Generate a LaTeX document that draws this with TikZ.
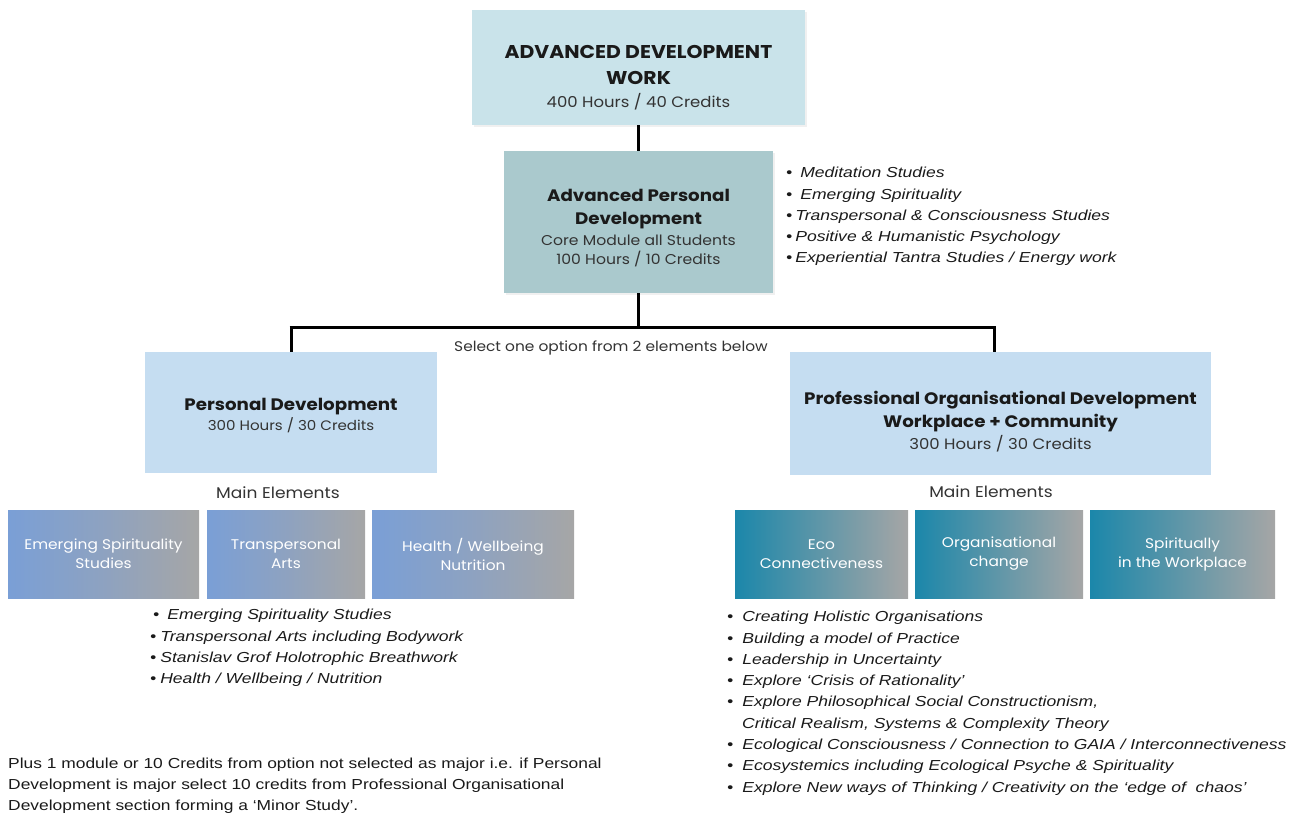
\documentclass[tikz,border=0pt]{standalone}
\usepackage{fontspec}
\setmainfont{Poppins}[FakeStretch=1.1]
\newfontfamily\arialit{Liberation Sans Italic}[FakeStretch=1.21]
\newfontfamily\arialf{Liberation Sans}[FakeStretch=1.2]
\usetikzlibrary{shadows}
\definecolor{topbox}{HTML}{C9E3EA}
\definecolor{corebox}{HTML}{AAC9CD}
\definecolor{optbox}{HTML}{C5DDF1}
\definecolor{pdleft}{HTML}{7A9FD6}
\definecolor{pdgray}{HTML}{A6A6A6}
\definecolor{podleft}{HTML}{1B87AA}
\definecolor{txt}{HTML}{1A1A1A}
\definecolor{subtxt}{HTML}{333333}
\newcommand{\ttl}{\bfseries\fontsize{18.5}{26}\selectfont}
\newcommand{\ttm}{\bfseries\fontsize{16.6}{23}\selectfont}
\newcommand{\subf}{\mdseries\fontsize{15}{22}\selectfont\color{subtxt}}
\newcommand{\subl}{\mdseries\fontsize{13.7}{22}\selectfont\color{subtxt}}
\newcommand{\subs}{\mdseries\fontsize{14.2}{18}\selectfont\color{subtxt}}
\tikzset{
  bigbox/.style={draw=none, inner sep=0pt},
  elemL/.style={draw=none, inner sep=0pt, align=center, text=white, left color=pdleft, right color=pdgray, middle color=pdleft!55!pdgray, font=\fontsize{14}{19}\selectfont},
  elemR/.style={draw=none, inner sep=0pt, align=center, text=white, left color=podleft, right color=pdgray, middle color=podleft!50!pdgray, font=\fontsize{14}{19}\selectfont},
  conn/.style={line width=3pt, draw=black},
  bullets/.style={anchor=north west, inner sep=0pt, align=left, font=\arialit\fontsize{14.5}{21.3}\selectfont, text=txt},
  plain/.style={inner sep=0pt, font=\fontsize{15.5}{18}\selectfont, text=subtxt},
  boxtext/.style={align=center, text=txt, inner sep=0pt, font=\ttl},
  shadowed/.style={drop shadow={opacity=0.12, shadow xshift=2pt, shadow yshift=-2pt}},
}
\begin{document}
\begin{tikzpicture}[x=1pt,y=-1pt]
\useasboundingbox (0,0) rectangle (1295,814);
% top box
\node[bigbox, fill=topbox, minimum width=333pt, minimum height=115pt, shadowed] (adw) at (638.5,67.5) {};
\node[boxtext] (adwt) at (638.5,78) {ADVANCED DEVELOPMENT\\WORK\\[-3pt]\subf 400 Hours / 40 Credits};
% core box
\node[bigbox, fill=corebox, minimum width=269pt, minimum height=142pt, shadowed] (apd) at (638.5,222) {};
\node[boxtext, font=\ttm] (apdt) at (638.5,228) {Advanced Personal\\Development\\[-2pt]\subs Core Module all Students\\[-4pt]\subs 100 Hours / 10 Credits};
% option boxes
\node[bigbox, fill=optbox, minimum width=292pt, minimum height=121pt] (pd) at (291,412.5) {};
\node[boxtext, font=\ttm] (pdt) at (291,416) {Personal Development\\[-3pt]\subl 300 Hours / 30 Credits};
\node[bigbox, fill=optbox, minimum width=421pt, minimum height=123pt] (pod) at (1000.5,413.5) {};
\node[boxtext, font=\ttm] (podt) at (1000.5,422) {Professional Organisational Development\\Workplace + Community\\[-1pt]\subf 300 Hours / 30 Credits};
% connectors
\coordinate (j) at (638.5,327);
\coordinate (jl) at (291,327);
\coordinate (jr) at (994,327);
\draw[conn] (adw.south) -- (apd.north);
\draw[conn] (apd.south) -- (j);
\draw[conn, line cap=butt] ([xshift=-1.5pt]jl) -- ([xshift=1.5pt]jr);
\draw[conn] (jl) -- (jl |- pd.north);
\draw[conn] (jr) -- (jr |- pod.north);
\node[plain, font=\fontsize{14}{16}\selectfont] (sel) at (611,348) {Select one option from 2 elements below};
% main elements labels
\node[plain] (mel) at (278,493) {Main Elements};
\node[plain] (mer) at (991,492) {Main Elements};
% left elements
\node[elemL, minimum width=191pt, minimum height=88pt] (e1) at (103.5,554) {Emerging Spirituality\\Studies};
\node[elemL, minimum width=158pt, minimum height=88pt] (e2) at (286,554) {Transpersonal\\Arts};
\node[elemL, minimum width=202pt, minimum height=88pt] (e3) at (473,554) {Health / Wellbeing\\Nutrition};
% right elements
\node[elemR, minimum width=173pt, minimum height=88pt] (r1) at (821.5,554) {Eco\\Connectiveness};
\node[elemR, minimum width=168pt, minimum height=88pt] (r2) at (999,554) {Organisational\\change};
\node[elemR, minimum width=185pt, minimum height=88pt] (r3) at (1182.5,554) {Spiritually\\in the Workplace};
% core bullets
\node[bullets] (cb) at (786,167) {\textbullet\hspace{8pt}Meditation Studies\\
\textbullet\hspace{8pt}Emerging Spirituality\\
\textbullet\hspace{3pt}Transpersonal \& Consciousness Studies\\
\textbullet\hspace{3pt}Positive \& Humanistic Psychology\\
\textbullet\hspace{3pt}Experiential Tantra Studies / Energy work};
% left bullets
\node[bullets] (lb) at (150,609) {\hspace{3pt}\textbullet\hspace{8pt}Emerging Spirituality Studies\\
\textbullet\hspace{4pt}Transpersonal Arts including Bodywork\\
\textbullet\hspace{4pt}Stanislav Grof Holotrophic Breathwork\\
\textbullet\hspace{4pt}Health / Wellbeing / Nutrition};
% right bullets
\node[bullets] (rb) at (727,611) {\textbullet\hspace{9pt}Creating Holistic Organisations\\
\textbullet\hspace{9pt}Building a model of Practice\\
\textbullet\hspace{9pt}Leadership in Uncertainty\\
\textbullet\hspace{9pt}Explore ‘Crisis of Rationality’\\
\textbullet\hspace{9pt}Explore Philosophical Social Constructionism,\\
\hspace{15pt}Critical Realism, Systems \& Complexity Theory\\
\textbullet\hspace{9pt}Ecological Consciousness / Connection to GAIA / Interconnectiveness\\
\textbullet\hspace{9pt}Ecosystemics including Ecological Psyche \& Spirituality\\
\textbullet\hspace{9pt}Explore New ways of Thinking / Creativity on the ‘edge of\ \ chaos’};
% footnote
\node[anchor=north west, inner sep=0pt, align=left, font=\arialf\fontsize{14.5}{21}\selectfont, text=txt] (fn) at (8,758) {Plus 1 module or 10 Credits from option not selected as major i.e. if Personal\\Development is major select 10 credits from Professional Organisational\\Development section forming a ‘Minor Study’.};
\end{tikzpicture}
\end{document}
